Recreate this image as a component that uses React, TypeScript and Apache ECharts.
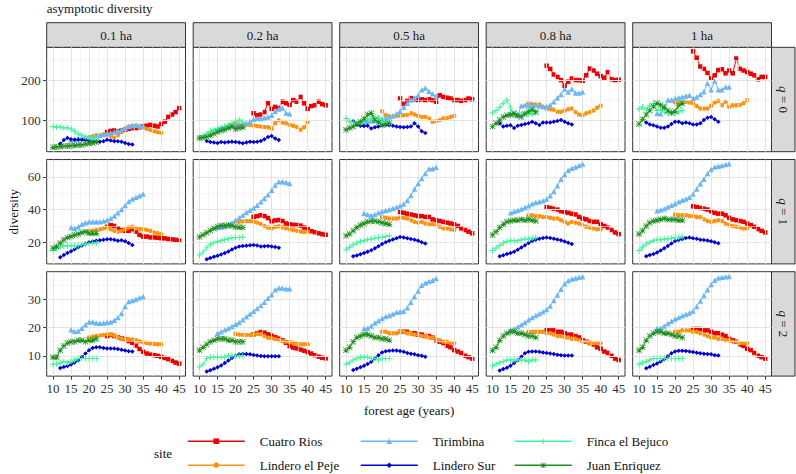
import React, { useEffect, useRef } from "react";
import * as echarts from "echarts";

const FONT = "Liberation Serif";

const areaLabels = ["0.1 ha", "0.2 ha", "0.5 ha", "0.8 ha", "1 ha"];
const qLabels = ["0", "1", "2"];

const xTicks = [10, 15, 20, 25, 30, 35, 40, 45];
const xMinor = [12.5, 17.5, 22.5, 27.5, 32.5, 37.5, 42.5];
const yTicksQ0 = [100, 200];
const yMinorQ0 = [50, 150, 250];
const yTicksQ1 = [20, 40, 60];
const yMinorQ1 = [10, 30, 50, 70];
const yTicksQ2 = [10, 20, 30];
const yMinorQ2 = [5, 15, 25, 35];
const yMinQ = [21, 6.8, 2.8];
const yMaxQ = [282, 70.6, 39.8];

const agesCuatroRios = [25, 26, 27, 28, 29, 30, 31, 32, 33, 34, 35, 36, 37, 38, 39, 40, 41, 42, 43, 44, 45];
const agesLinderoPeje = [20, 21, 22, 23, 24, 25, 26, 27, 28, 29, 30, 31, 32, 33, 34, 35, 36, 37, 38, 39, 40];
const agesTirimbina = [15, 16, 17, 18, 19, 20, 21, 22, 23, 24, 25, 26, 27, 28, 29, 30, 31, 32, 33, 34, 35];
const agesLinderoSur = [12, 13, 14, 15, 16, 17, 18, 19, 20, 21, 22, 23, 24, 25, 26, 27, 28, 29, 30, 31, 32];
const agesBejuco = [10, 11, 12, 13, 14, 15, 16, 17, 18, 19, 20, 21, 22];
const agesJuan = [10, 11, 12, 13, 14, 15, 16, 17, 18, 19, 20, 21, 22];

// each list: one array per plot size (0.1, 0.2, 0.5, 0.8, 1 ha)
const cuatroRiosQ0 = [
  [70, 73, 74, 72, 74, 76, 78, 80, 80, 82, 84, 86, 88, 86, 84, 90, 96, 108, 114, 120, 130],
  [117, 112, 114, 120, 142, 128, 133, 130, 146, 142, 138, 150, 146, 158, 142, 128, 135, 137, 146, 140, 137],
  [154, 140, 148, 155, 152, 150, 152, 150, 152, 150, 146, 162, 158, 156, 154, 150, 150, 148, 150, 154, 152],
  [236, 228, 214, 208, 200, 186, 196, 204, 200, 200, 198, 212, 229, 224, 216, 210, 206, 220, 202, 200, 201],
  [272, 256, 234, 228, 218, 204, 212, 225, 227, 217, 224, 217, 254, 228, 224, 220, 216, 212, 202, 208, 208],
];
const cuatroRiosQ1 = [
  [29.5, 30.5, 30, 28.5, 27.5, 27, 27, 28, 26.5, 24.5, 23.5, 23.5, 23, 23, 22.8, 22.5, 22.4, 22, 21.8, 21.5, 21],
  [35.6, 36, 36.5, 36, 34.8, 32.8, 33.4, 33.6, 33, 31.5, 31, 30.6, 30.6, 30.2, 29, 28, 26.8, 26.2, 25.5, 25, 24.6],
  [38.5, 38, 37.5, 37, 36.5, 36, 36, 35.5, 35.5, 34, 33.5, 33, 32.5, 32, 31.5, 31, 30, 28.5, 27.5, 26.5, 25.5],
  [41.5, 41, 40.5, 40, 39, 38.5, 38, 37.5, 37, 35.5, 34.5, 34, 33, 32.5, 32.5, 31, 30, 29, 27.5, 26, 25],
  [42, 41.5, 41, 40.5, 40, 39, 38, 37.5, 37.5, 36.5, 35, 34, 33.5, 33, 32.5, 31.5, 30.5, 29.5, 28, 27, 26],
];
const cuatroRiosQ2 = [
  [17, 17.4, 17, 16.6, 16.2, 15.8, 15.2, 14.6, 13.6, 12.4, 11.4, 10.8, 10.4, 10.2, 10, 9.6, 9.2, 8.8, 8.2, 7.6, 7.2],
  [17.6, 18, 18.4, 18.2, 17.6, 17.1, 16.6, 16.1, 15.5, 14.6, 13.4, 12.9, 12.6, 12.2, 11.8, 11.3, 10.8, 10.2, 9.7, 9.3, 9.1],
  [18.5, 18.5, 18.5, 18, 18, 17.5, 17.5, 17, 17, 16.5, 15.5, 15, 14.5, 13.5, 13, 12, 11.5, 11, 10, 9.5, 9],
  [19, 19, 19, 18.5, 18.5, 18, 17.5, 17.5, 17, 16.5, 15.5, 15, 14.5, 14, 13, 12.5, 11.5, 11, 10, 9, 8.5],
  [19.5, 19.5, 19.5, 19, 19, 18.5, 18, 18, 17.5, 17, 16, 15.5, 15, 14, 13.5, 12.5, 12, 11, 10, 9.5, 9],
];

const linderoPejeQ0 = [
  [58, 60, 62, 62, 64, 64, 60, 56, 62, 70, 78, 84, 86, 86, 84, 82, 78, 75, 72, 70, 68],
  [92, 88, 90, 88, 88, 87, 85, 84, 83, 82, 79, 92, 100, 94, 92, 88, 86, 83, 76, 82, 96],
  [122, 112, 110, 110, 111, 111, 112, 113, 117, 114, 111, 108, 108, 104, 96, 97, 100, 104, 105, 108, 111],
  [142, 140, 139, 139, 133, 128, 127, 126, 121, 121, 124, 127, 129, 120, 114, 112, 117, 120, 124, 131, 136],
  [144, 144, 145, 146, 144, 142, 135, 129, 129, 129, 136, 144, 148, 137, 146, 133, 137, 137, 138, 142, 150],
];
const linderoPejeQ1 = [
  [27, 27, 27.5, 28, 28.5, 29, 28, 27, 26.5, 27, 28, 29, 29.5, 28.5, 28, 28, 27.5, 27, 26, 25.5, 25],
  [32.6, 32.6, 32.8, 33, 33, 32.6, 32, 31.2, 30, 29, 28.6, 29.4, 29.8, 29.2, 28.6, 28, 27.5, 27, 26.6, 26.2, 26.5],
  [35.5, 35, 34.5, 34.5, 34.5, 35, 35, 34.5, 33.5, 32.5, 32, 32.5, 31.5, 31, 31, 30.5, 29.5, 28.5, 28.5, 28, 27.5],
  [36.5, 36.5, 36, 36, 35.5, 35.5, 35, 34.5, 34.5, 33.5, 32.5, 31.5, 32.5, 32, 31.5, 30.5, 29.5, 29, 28.5, 28, 28],
  [37, 36.5, 36.5, 36.5, 36, 36, 35.5, 35.5, 34, 33, 32.5, 33, 33.5, 33, 31.5, 30.5, 30, 29.5, 29, 28.5, 28.5],
];
const linderoPejeQ2 = [
  [16.5, 16.8, 17, 17.2, 17.4, 17.6, 17.6, 17.2, 16.6, 16.1, 15.8, 15.9, 15.8, 15.5, 15.1, 14.8, 14.5, 14.3, 14.2, 14.1, 14.1],
  [17.7, 17.5, 17.4, 17.4, 17.4, 17.6, 17.8, 17.6, 17, 16.4, 16.2, 15.9, 15.6, 15.2, 15, 14.9, 14.6, 14.3, 14.1, 14.1, 14.1],
  [18.5, 18.5, 18, 18, 18, 18.5, 18.5, 18, 18, 17.5, 17.5, 17, 17, 16.5, 16.5, 16, 15.5, 15, 15, 14.5, 14.5],
  [18.5, 18.5, 18.5, 18.5, 18.5, 18, 18, 17.5, 17, 17, 16.5, 16.5, 16, 16, 15.5, 15, 15, 14.5, 14.5, 14.5, 14.5],
  [18.5, 18.5, 19, 19, 19, 18.5, 18.5, 18, 17.5, 17, 16.5, 16.5, 16, 16, 15.5, 15.5, 15, 15, 14.5, 14.5, 14.5],
];

const tirimbinaQ0 = [
  [50, 53, 55, 55, 56, 56, 58, 60, 62, 64, 66, 68, 70, 72, 76, 80, 84, 86, 88, 86, 84],
  [78, 80, 82, 84, 86, 86, 88, 90, 92, 96, 102, 104, 104, 106, 108, 112, 122, 128, 130, 118, 116],
  [96, 97, 98, 99, 100, 102, 106, 108, 110, 116, 122, 132, 142, 150, 156, 162, 176, 180, 172, 166, 160],
  [116, 114, 112, 136, 138, 138, 136, 138, 136, 134, 134, 138, 146, 156, 164, 178, 170, 178, 168, 168, 170],
  [117, 116, 132, 150, 150, 154, 156, 158, 160, 162, 154, 158, 164, 171, 192, 176, 198, 176, 176, 183, 183],
];
const tirimbinaQ1 = [
  [29, 28.5, 29.5, 31, 32, 32.5, 32.5, 32.5, 32.5, 33, 33.5, 34.5, 36, 38, 40, 42.5, 45, 46.5, 47.5, 48.5, 49.5],
  [29, 29.2, 29.6, 30.4, 32, 33.4, 35, 36.6, 38.2, 39.6, 41, 42.6, 44.8, 46.8, 49, 51.8, 55, 57, 57, 56.6, 56],
  [37.7, 37, 36.4, 37, 38, 38.8, 39.4, 40, 40.6, 41.4, 42.2, 43.4, 45.5, 48.6, 52.5, 56, 59, 62, 65, 65, 65.8],
  [38, 38.8, 39.6, 40.3, 41.2, 42.3, 43.6, 44.3, 44.8, 45.4, 46.5, 48.5, 51, 54.5, 58.6, 61.5, 64, 65.2, 66, 67, 67.8],
  [39.3, 39.8, 40.5, 41.6, 42.6, 43.6, 44.8, 45.7, 46.5, 47.5, 49.5, 52.5, 55.8, 58.5, 62, 64.5, 66, 66.5, 67, 67.5, 68],
];
const tirimbinaQ2 = [
  [19.2, 18.6, 18.8, 19.8, 21, 22, 22, 21.6, 21.5, 21.6, 21.8, 22, 22.6, 23.6, 25, 27.5, 29.2, 29.6, 30, 30.6, 31],
  [18, 18.5, 19.2, 19.8, 20.4, 21.2, 21.8, 22.8, 23.8, 24.8, 25.8, 26.8, 27.8, 29, 30.4, 31.6, 33.4, 34, 34, 33.8, 33.8],
  [19.7, 19.8, 20.6, 21.6, 22.4, 23.2, 23.9, 24.3, 24.8, 25.4, 25.6, 25.8, 27, 29, 31, 33, 35, 35.8, 36.3, 36.8, 37.4],
  [19.2, 19.6, 20.3, 21, 21.8, 22.8, 23.6, 24.3, 24.9, 25.6, 26.4, 27.6, 29.6, 31.5, 33.6, 35.5, 36.6, 37.2, 37.5, 37.8, 38],
  [19.8, 19.8, 20.6, 21.4, 22.2, 23, 23.6, 24.2, 24.7, 25.2, 25.9, 27.5, 29.4, 31.4, 33.4, 35.3, 36.8, 37.6, 37.8, 38, 38.1],
];

const linderoSurQ0 = [
  [41, 50, 55, 52, 51, 51, 51, 50, 48, 46, 46, 46, 47, 51, 49, 47, 47, 46, 43, 40, 39],
  [48, 45, 44, 43, 45, 44, 45, 46, 45, 44, 42, 44, 46, 45, 46, 48, 52, 58, 60, 54, 50],
  [97, 88, 86, 85, 86, 79, 82, 84, 87, 88, 87, 86, 84, 83, 82, 83, 84, 92, 84, 72, 68],
  [92, 84, 86, 87, 80, 86, 88, 90, 92, 96, 92, 88, 94, 94, 94, 96, 98, 100, 96, 92, 89],
  [94, 89, 87, 84, 81, 81, 84, 90, 96, 96, 92, 94, 92, 89, 89, 92, 100, 106, 108, 102, 96],
];
const linderoSurQ1 = [
  [10.9, 12.2, 13.4, 14.6, 15.8, 17, 18, 19, 20, 20.5, 21, 21.3, 21.5, 21.8, 21.8, 21.5, 21, 21.2, 20.6, 19.5, 18.4],
  [9.6, 10.4, 11.2, 11.8, 12.6, 13.4, 14.4, 15.6, 16.6, 17.4, 17.8, 17.9, 18.2, 18.4, 18, 17.5, 17.6, 17.8, 17.5, 17.2, 16.6],
  [11.5, 12, 12.7, 13.5, 14.3, 15.2, 16.3, 17.6, 19, 20, 21, 21.7, 22.4, 23.2, 23, 22.4, 22, 21.6, 20.9, 20, 19.3],
  [11.4, 12.1, 12.8, 13.5, 14.2, 15.4, 16.8, 18.2, 19.6, 20.8, 21.5, 22.1, 22.7, 23, 22.7, 22.2, 21.7, 21.2, 20.5, 19.8, 19],
  [11.5, 12.2, 12.9, 13.7, 15, 16.3, 17.8, 19.3, 20.8, 21.4, 22, 22.6, 23, 22.5, 22.1, 21.6, 21.4, 21.1, 20.6, 20, 19.4],
];
const linderoSurQ2 = [
  [5.7, 6, 6.4, 6.9, 7.6, 8.4, 9.6, 10.8, 12, 12.8, 13, 13, 12.8, 12.6, 12.6, 12.6, 12.4, 12.1, 11.9, 11.6, 11.5],
  [4.4, 4.9, 5.4, 5.9, 6.6, 7.4, 8.3, 9.2, 10, 10.5, 10.6, 10.6, 10.5, 10.3, 10.1, 9.9, 9.8, 9.8, 9.8, 9.8, 9.8],
  [5, 5.4, 5.9, 6.5, 7.1, 7.9, 9, 10.2, 11.2, 11.6, 11.8, 11.9, 11.9, 11.7, 11.4, 11, 10.7, 10.5, 10.2, 10, 9.7],
  [4.8, 5.3, 5.8, 6.5, 7.4, 8.4, 9.7, 10.9, 11.4, 11.5, 11.5, 11.4, 11.2, 11, 10.8, 10.6, 10.4, 10.2, 10.1, 10.1, 10.1],
  [5.6, 6.1, 6.7, 7.3, 8, 8.8, 9.8, 10.9, 11.5, 11.8, 11.8, 11.7, 11.5, 11.3, 11.1, 10.9, 10.7, 10.6, 10.5, 10.2, 10.1],
];

const bejucoQ0 = [
  [84, 82, 83, 80, 81, 78, 72, 65, 62, 58, 55, 54, 55],
  [55, 60, 65, 72, 76, 79, 82, 84, 88, 92, 96, 100, 96],
  [104, 96, 94, 92, 94, 100, 104, 102, 108, 106, 100, 98, 92],
  [118, 124, 132, 142, 150, 130, 112, 110, 114, 118, 116, 114, 118],
  [128, 133, 126, 136, 142, 124, 126, 120, 117, 121, 118, 120, 124],
];
const bejucoQ1 = [
  [15, 16, 17, 17.8, 17.8, 17.8, 17.8, 18, 18.5, 19, 19.2, 19.4, 19.4],
  [12.3, 14, 16.6, 18.8, 19.8, 20.4, 21, 21.5, 22.2, 22.6, 23, 23, 23.2],
  [15.5, 17, 18.5, 19.5, 20.5, 21, 21.5, 22, 22.5, 23, 23, 23.5, 24],
  [15, 16.5, 18, 19.5, 20.5, 21, 21, 21, 21.5, 22, 22, 22.5, 23],
  [15, 17, 19, 20, 21, 21.5, 21.5, 22, 22, 22.5, 23, 23, 23.5],
];
const bejucoQ2 = [
  [7, 7, 7.5, 8, 7.5, 8, 8.5, 9, 9, 9, 9, 9, 9],
  [6, 7, 9, 9.5, 9.5, 9.5, 9.5, 9.5, 10, 10, 10, 10, 10],
  [7, 7.5, 8.5, 9, 9.5, 9.5, 9.5, 9, 9, 8.5, 9, 9, 9],
  [6.5, 7, 7.5, 8, 8.5, 8.5, 8.5, 8.5, 8.5, 8.5, 8, 8.5, 8.5],
  [7, 7.5, 8, 8.5, 9, 9, 9, 9, 9, 9, 9, 9, 9],
];

const juanQ0 = [
  [32, 33, 34, 35, 35, 36, 37, 38, 38, 40, 42, 43, 45],
  [55, 56, 58, 62, 66, 70, 74, 76, 80, 84, 78, 80, 82],
  [76, 80, 84, 90, 96, 104, 114, 117, 100, 94, 87, 90, 92],
  [84, 92, 100, 108, 112, 114, 117, 112, 108, 115, 122, 125, 121],
  [90, 102, 114, 124, 134, 142, 138, 132, 124, 118, 122, 136, 142],
];
const juanQ1 = [
  [16.5, 17.5, 19.5, 21.5, 23, 23.5, 24.5, 25, 26, 26.5, 25.5, 25.5, 25.5],
  [23.3, 24.6, 25.8, 27.2, 28.4, 29.6, 30.2, 30.2, 30.6, 30, 29.4, 29.2, 29],
  [24, 25, 27, 29, 30.5, 31.5, 32.5, 33, 33, 32.5, 32, 31.5, 31],
  [24.5, 26.5, 29, 31, 32.5, 33, 33.5, 33.5, 34, 33.5, 34, 33.5, 33],
  [25, 27, 30, 32, 33, 33.5, 34, 34.5, 34, 34, 34, 33.5, 33.5],
];
const juanQ2 = [
  [9.5, 9.5, 12, 13.5, 14.5, 15, 15, 15.5, 15.5, 15, 15.5, 15.5, 16],
  [12, 13, 14, 15, 15.5, 16, 16, 16, 15.5, 15.5, 15, 15, 15],
  [12, 13, 15, 16.5, 17, 17.5, 17.5, 17, 16.5, 16.5, 16, 16, 15.5],
  [12, 13, 15.5, 17, 18, 18.5, 18.5, 18, 18, 17.5, 17, 17, 16.5],
  [12, 13, 15.5, 17, 18, 18.5, 18.5, 18, 18, 17.5, 17, 17, 16.5],
];

const plusPath = "path://M4.2,0H5.8V4.2H10V5.8H5.8V10H4.2V5.8H0V4.2H4.2Z";
const starPath =
  "path://M0,4.4H10V5.6H0Z M4.4,0H5.6V10H4.4Z M0,0.85L0.85,0L10,9.15L9.15,10Z M9.15,0L10,0.85L0.85,10L0,9.15Z";

const sites = [
  { name: "Cuatro Rios", color: "#EE0000", symbol: "rect", size: 4.5, ages: agesCuatroRios, values: [cuatroRiosQ0, cuatroRiosQ1, cuatroRiosQ2] },
  { name: "Lindero el Peje", color: "#FF9412", symbol: "circle", size: 4.5, ages: agesLinderoPeje, values: [linderoPejeQ0, linderoPejeQ1, linderoPejeQ2] },
  { name: "Tirimbina", color: "#6CB6F2", symbol: "triangle", size: 5.5, ages: agesTirimbina, values: [tirimbinaQ0, tirimbinaQ1, tirimbinaQ2] },
  { name: "Lindero Sur", color: "#0000D0", symbol: "diamond", size: 4.5, ages: agesLinderoSur, values: [linderoSurQ0, linderoSurQ1, linderoSurQ2] },
  { name: "Finca el Bejuco", color: "#3DF59A", symbol: plusPath, size: 6, ages: agesBejuco, values: [bejucoQ0, bejucoQ1, bejucoQ2] },
  { name: "Juan Enriquez", color: "#1D8F1D", symbol: starPath, size: 6, ages: agesJuan, values: [juanQ0, juanQ1, juanQ2] },
];

const colLeft = [46.7, 193.2, 339.7, 486.2, 632.7];
const rowTop = [47.3, 159.5, 271.7];
const PW = 138.8;
const PH = 104.4;

function buildOption() {
  const grids: any[] = [];
  const xAxes: any[] = [];
  const yAxes: any[] = [];
  const series: any[] = [];
  const yTicks = [yTicksQ0, yTicksQ1, yTicksQ2];
  const yMinor = [yMinorQ0, yMinorQ1, yMinorQ2];

  for (let r = 0; r < 3; r++) {
    for (let c = 0; c < 5; c++) {
      const g = r * 5 + c;
      grids.push({
        left: colLeft[c],
        top: rowTop[r],
        width: PW,
        height: PH,
        show: true,
        backgroundColor: "#fff",
        borderColor: "#333333",
        borderWidth: 1,
      });
      xAxes.push({
        gridIndex: g,
        type: "value",
        min: 8.25,
        max: 46.75,
        axisLine: { show: false },
        splitLine: { show: false },
        axisTick: { show: r === 2, customValues: xTicks, length: 3.5, lineStyle: { color: "#333333" } },
        axisLabel: {
          show: r === 2,
          customValues: xTicks,
          fontFamily: FONT,
          fontSize: 13,
          color: "#333333",
          margin: 6,
        },
      });
      yAxes.push({
        gridIndex: g,
        type: "value",
        min: yMinQ[r],
        max: yMaxQ[r],
        axisLine: { show: false },
        splitLine: { show: false },
        axisTick: { show: c === 0, customValues: yTicks[r], length: 3.5, lineStyle: { color: "#333333" } },
        axisLabel: {
          show: c === 0,
          customValues: yTicks[r],
          fontFamily: FONT,
          fontSize: 13,
          color: "#333333",
          margin: 6,
        },
      });
      const lines: any[] = [];
      xMinor.forEach((v) => lines.push({ xAxis: v, lineStyle: { color: "#EEEEEE", width: 0.6, type: "solid" } }));
      yMinor[r].forEach((v) => lines.push({ yAxis: v, lineStyle: { color: "#EEEEEE", width: 0.6, type: "solid" } }));
      xTicks.forEach((v) => lines.push({ xAxis: v, lineStyle: { color: "#E4E4E4", width: 1, type: "solid" } }));
      yTicks[r].forEach((v) => lines.push({ yAxis: v, lineStyle: { color: "#E4E4E4", width: 1, type: "solid" } }));
      series.push({
        type: "line",
        name: "grid" + g,
        xAxisIndex: g,
        yAxisIndex: g,
        data: [[8.25, yMinQ[r]]],
        showSymbol: false,
        symbol: "none",
        silent: true,
        z: 1,
        lineStyle: { width: 0 },
        markLine: {
          silent: true,
          symbol: ["none", "none"],
          label: { show: false },
          animation: false,
          data: lines,
        },
      });
      sites.forEach((s, si) => {
        const vals = s.values[r][c];
        series.push({
          type: "line",
          name: s.name,
          xAxisIndex: g,
          yAxisIndex: g,
          data: s.ages.map((a, i) => [a, vals[i]]),
          symbol: s.symbol,
          symbolSize: s.size,
          showSymbol: true,
          z: 3 + si,
          lineStyle: { width: 1, color: s.color },
          itemStyle: { color: s.color },
          emphasis: { disabled: true },
        });
      });
    }
  }

  const graphic: any[] = [];
  graphic.push({
    type: "text",
    x: 46.7,
    y: 8,
    style: { text: "asymptotic diversity", fontFamily: FONT, fontSize: 13, fill: "#111", align: "left", verticalAlign: "middle" },
  });
  areaLabels.forEach((lab, c) => {
    graphic.push({
      type: "rect",
      shape: { x: colLeft[c], y: 22.7, width: PW, height: 24.6 },
      style: { fill: "#D9D9D9", stroke: "#333333", lineWidth: 1 },
    });
    graphic.push({
      type: "text",
      x: colLeft[c] + PW / 2,
      y: 35,
      style: { text: lab, fontFamily: FONT, fontSize: 13, fill: "#1A1A1A", align: "center", verticalAlign: "middle" },
    });
  });
  qLabels.forEach((lab, r) => {
    graphic.push({
      type: "rect",
      shape: { x: colLeft[4] + PW, y: rowTop[r], width: 23.5, height: PH },
      style: { fill: "#D9D9D9", stroke: "#333333", lineWidth: 1 },
    });
    graphic.push({
      type: "text",
      x: colLeft[4] + PW + 11.75,
      y: rowTop[r] + PH / 2,
      rotation: -Math.PI / 2,
      style: {
        text: "{q|q} = " + lab,
        rich: { q: { fontStyle: "italic", fontFamily: FONT, fontSize: 13, fill: "#1A1A1A" } },
        fontFamily: FONT,
        fontSize: 13,
        fill: "#1A1A1A",
        align: "center",
        verticalAlign: "middle",
      },
    });
  });
  graphic.push({
    type: "text",
    x: 13,
    y: (rowTop[0] + rowTop[2] + PH) / 2,
    rotation: Math.PI / 2,
    style: { text: "diversity", fontFamily: FONT, fontSize: 13, fill: "#111", align: "center", verticalAlign: "middle" },
  });
  graphic.push({
    type: "text",
    x: (colLeft[0] + colLeft[4] + PW) / 2,
    y: 410,
    style: { text: "forest age (years)", fontFamily: FONT, fontSize: 13, fill: "#111", align: "center", verticalAlign: "middle" },
  });
  graphic.push({
    type: "text",
    x: 154,
    y: 453,
    style: { text: "site", fontFamily: FONT, fontSize: 13, fill: "#111", align: "left", verticalAlign: "middle" },
  });

  const legendLeft = [187, 360, 514];
  const legendRow = [441.7, 465.7];
  const legends = sites.map((s, i) => ({
    show: true,
    data: [s.name],
    left: legendLeft[Math.floor(i / 2)],
    top: legendRow[i % 2] - 7,
    orient: "horizontal",
    padding: 0,
    itemWidth: 57,
    itemHeight: 7,
    selectedMode: false,
    lineStyle: { width: 1.5 },
    textStyle: { fontFamily: FONT, fontSize: 13, color: "#111", padding: [0, 0, 0, 10] },
  }));

  return {
    animation: false,
    backgroundColor: "#ffffff",
    textStyle: { fontFamily: FONT },
    grid: grids,
    xAxis: xAxes,
    yAxis: yAxes,
    series,
    legend: legends,
    graphic,
  };
}

export default function App() {
  const ref = useRef<HTMLDivElement>(null);
  useEffect(() => {
    const chart = echarts.init(ref.current as HTMLDivElement, null, { renderer: "svg" });
    chart.setOption(buildOption() as any);
    return () => chart.dispose();
  }, []);
  return <div ref={ref} style={{ position: "absolute", left: 0, top: 0, width: 796, height: 474 }} />;
}
